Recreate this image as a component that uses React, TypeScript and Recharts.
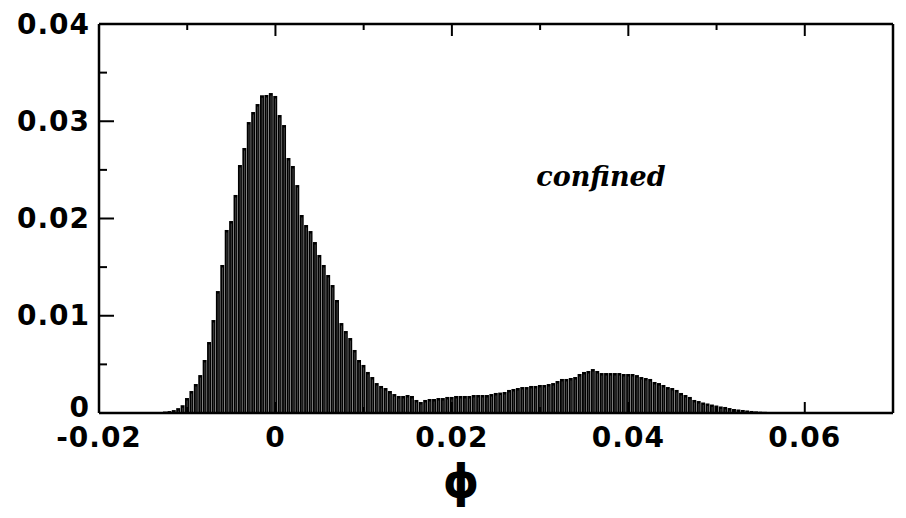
import { BarChart, Bar, XAxis, YAxis, ReferenceDot, Label } from 'recharts'

// histogram of phi, bin width 0.0005 starting at -0.015 (bin centres)
const BIN_START = -0.015
const BIN_WIDTH = 0.0005

const density = [
  0.00002, 0.00003, 0.00005, 0.00007, 0.0001, 0.00015, 0.0002, 0.0003, 0.0005, 0.0008,
  0.00154, 0.00226, 0.00298, 0.0039, 0.00545, 0.0073, 0.00956, 0.01254, 0.01522, 0.01882,
  0.01974, 0.02242, 0.0255, 0.02725, 0.02992, 0.03095, 0.03177, 0.03267, 0.0327, 0.0329,
  0.0326, 0.03064, 0.02961, 0.02622, 0.0254, 0.02344, 0.02036, 0.01933, 0.01871, 0.01758,
  0.01625, 0.01522, 0.01419, 0.01316, 0.01162, 0.00925, 0.00843, 0.00771, 0.00648, 0.00545,
  0.00494, 0.00422, 0.0037, 0.00308, 0.00278, 0.00257, 0.00226, 0.00195, 0.00175, 0.00175,
  0.00185, 0.00175, 0.00134, 0.00113, 0.00134, 0.00144, 0.00144, 0.00154, 0.00154, 0.00165,
  0.00165, 0.00175, 0.00175, 0.00175, 0.00175, 0.00185, 0.00185, 0.00185, 0.00185, 0.00195,
  0.00206, 0.0021, 0.00216, 0.00237, 0.00247, 0.00257, 0.00267, 0.00267, 0.00278, 0.00278,
  0.00288, 0.00288, 0.00298, 0.00308, 0.00329, 0.0035, 0.0035, 0.0036, 0.0037, 0.00401,
  0.00422, 0.00432, 0.00452, 0.00432, 0.00411, 0.00411, 0.00411, 0.00411, 0.00411, 0.00401,
  0.00401, 0.00401, 0.0039, 0.0037, 0.0036, 0.0035, 0.00319, 0.00308, 0.00288, 0.00267,
  0.00257, 0.00237, 0.00206, 0.00185, 0.00165, 0.00134, 0.00123, 0.00108, 0.00098, 0.00087,
  0.00077, 0.00067, 0.00062, 0.00051, 0.00041, 0.00036, 0.00031, 0.00026, 0.00021, 0.00017,
  0.00014, 0.00012, 0.0001, 0.00008, 0.00005,
]

const xTicks = [-0.02, -0.01, 0, 0.01, 0.02, 0.03, 0.04, 0.05, 0.06, 0.07]
const xLabelled = [-0.02, 0, 0.02, 0.04, 0.06]
const yTicks = [0, 0.005, 0.01, 0.015, 0.02, 0.025, 0.03, 0.035, 0.04]
const yLabelled = [0, 0.01, 0.02, 0.03, 0.04]

const bins = density.map((p, i) => ({ phi: +(BIN_START + i * BIN_WIDTH).toFixed(4), p }))

const tickFont = { fontFamily: 'DejaVu Sans', fontWeight: 700, fontSize: 28, letterSpacing: 1 }
const fmt = (v: number) => (v === 0 ? '0' : v.toFixed(2))
const isMajor = (v: number, list: number[]) => list.some((t) => Math.abs(t - v) < 1e-9)

const MARGIN = 10

function BottomTick({ x, y, payload }: any) {
  const axisY = y - MARGIN
  const major = isMajor(payload.value, xLabelled)
  return (
    <g>
      <line x1={x} x2={x} y1={axisY} y2={axisY - (major ? 11 : 6)} stroke="#000" strokeWidth={2} />
      {major && (
        <text x={x} y={axisY + 24} textAnchor="middle" dominantBaseline="central" fill="#000" style={tickFont}>
          {fmt(payload.value)}
        </text>
      )}
    </g>
  )
}

function TopTick({ x, y, payload }: any) {
  const major = isMajor(payload.value, xLabelled)
  return <line x1={x} x2={x} y1={y} y2={y + (major ? 12 : 6)} stroke="#000" strokeWidth={2} />
}

function LeftTick({ x, y, payload }: any) {
  const axisX = x + MARGIN
  const major = isMajor(payload.value, yLabelled)
  return (
    <g>
      <line x1={axisX} x2={axisX + (major ? 15 : 8)} y1={y} y2={y} stroke="#000" strokeWidth={2} />
      {major && (
        <text x={axisX - 9} y={payload.value === 0 ? y - 6 : y} textAnchor="end" dominantBaseline="central" fill="#000" style={tickFont}>
          {fmt(payload.value)}
        </text>
      )}
    </g>
  )
}

function RightTick({ x, y, payload }: any) {
  const major = isMajor(payload.value, yLabelled)
  return <line x1={x} x2={x - (major ? 15 : 8)} y1={y} y2={y} stroke="#000" strokeWidth={2} />
}

function HistBar({ x, y, width, height }: any) {
  return (
    <g>
      <rect x={x} y={y} width={width} height={height} fill="#000" />
      {height > 4 && (
        <line x1={x + width * 0.55} x2={x + width * 0.55} y1={y + 2.5} y2={y + height} stroke="#fff" strokeWidth={0.6} strokeOpacity={0.45} />
      )}
    </g>
  )
}

export default function App() {
  return (
    <div style={{ width: 898, height: 510 }}>
      <BarChart width={898} height={510} data={bins} margin={{ top: 15, right: 12, left: 0, bottom: 5 }} barCategoryGap={0} barGap={0}>
        <XAxis
          dataKey="phi"
          type="number"
          domain={[-0.02, 0.07]}
          ticks={xTicks}
          interval={0}
          height={100}
          tickSize={0}
          tickMargin={MARGIN}
          tickLine={false}
          axisLine={{ stroke: '#000', strokeWidth: 2.5 }}
          tick={<BottomTick />}
        >
          <Label
            value="ϕ"
            position="insideBottom"
            offset={16}
            dx={-35}
            style={{ fontFamily: 'DejaVu Sans', fontWeight: 700, fontSize: 46, fill: '#000' }}
          />
        </XAxis>
        <XAxis
          xAxisId="top"
          orientation="top"
          dataKey="phi"
          type="number"
          domain={[-0.02, 0.07]}
          ticks={xTicks}
          interval={0}
          height={1}
          tickSize={0}
          tickMargin={0}
          tickLine={false}
          axisLine={{ stroke: '#000', strokeWidth: 2.5 }}
          tick={<TopTick />}
        />
        <YAxis
          type="number"
          domain={[0, 0.04]}
          ticks={yTicks}
          interval={0}
          width={91}
          tickSize={0}
          tickMargin={MARGIN}
          tickLine={false}
          axisLine={{ stroke: '#000', strokeWidth: 2.5 }}
          tick={<LeftTick />}
        />
        <YAxis
          yAxisId="right"
          orientation="right"
          type="number"
          domain={[0, 0.04]}
          ticks={yTicks}
          interval={0}
          width={1}
          tickSize={0}
          tickMargin={0}
          tickLine={false}
          axisLine={{ stroke: '#000', strokeWidth: 2.5 }}
          tick={<RightTick />}
        />
        <Bar dataKey="p" barSize={4.6} shape={<HistBar />} isAnimationActive={false} />
        <ReferenceDot
          x={0.0369}
          y={0.0243}
          r={0}
          label={{
            value: 'confined',
            position: 'center',
            style: { fontFamily: 'DejaVu Serif', fontStyle: 'italic', fontWeight: 700, fontSize: 27, fill: '#000' },
          }}
        />
      </BarChart>
    </div>
  )
}
